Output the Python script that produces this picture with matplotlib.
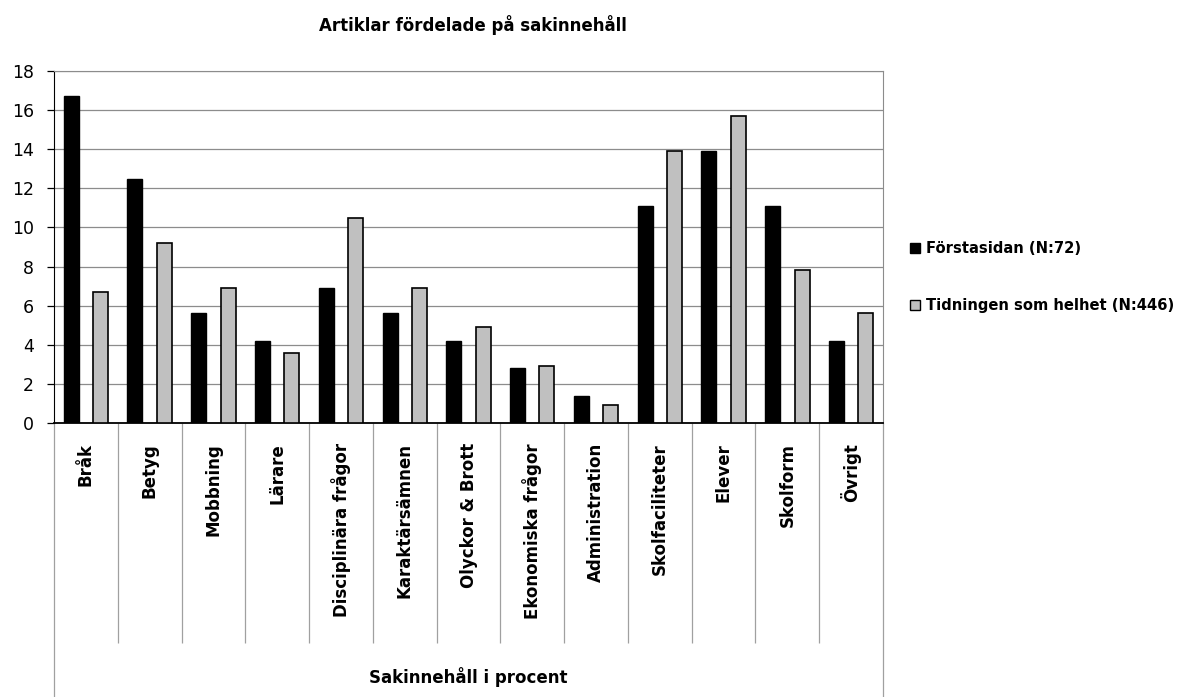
import numpy as np
import matplotlib
matplotlib.use("Agg")
import matplotlib.pyplot as plt
from matplotlib.patches import Patch

plt.rcParams['font.family'] = ['DejaVu Sans']

categories = ['Bråk', 'Betyg', 'Mobbning', 'Lärare', 'Disciplinära frågor',
              'Karaktärsämnen', 'Olyckor & Brott', 'Ekonomiska frågor',
              'Administration', 'Skolfaciliteter', 'Elever', 'Skolform', 'Övrigt']
forstasidan = [16.7, 12.5, 5.6, 4.2, 6.9, 5.6, 4.2, 2.8, 1.4, 11.1, 13.9, 11.1, 4.2]
tidningen = [6.7, 9.2, 6.9, 3.6, 10.5, 6.9, 4.9, 2.9, 0.9, 13.9, 15.7, 7.8, 5.6]
series_names = ['Förstasidan (N:72)', 'Tidningen som helhet (N:446)']
title = 'Artiklar fördelade på sakinnehåll'
xlabel = 'Sakinnehåll i procent'

W, H = 1183, 697
fig = plt.figure(figsize=(W / 100, H / 100), dpi=100)
left, right, top, bottom = 54, 883, 71, 423
ax = fig.add_axes([left / W, 1 - bottom / H, (right - left) / W, (bottom - top) / H])

x = np.arange(len(categories))
bw = 0.235
ax.bar(x - 0.23, forstasidan, bw, color='black', edgecolor='black', linewidth=1, zorder=3)
ax.bar(x + 0.23, tidningen, bw, color='#c0c0c0', edgecolor='black', linewidth=1.2, zorder=3)

ax.set_xlim(-0.5, len(categories) - 0.5)
ax.set_ylim(0, 18)
ax.set_yticks(range(0, 19, 2))
ax.yaxis.grid(True, color='#8c8c8c', linewidth=0.9, zorder=0)
ax.set_xticks([])
ax.tick_params(axis='y', labelsize=12.5, length=5, width=0.9, pad=9.5, color='black')
for s in ['top', 'right']:
    ax.spines[s].set_color('#8c8c8c')
ax.spines['left'].set_color('black')
ax.spines['bottom'].set_color('black')
ax.spines['bottom'].set_linewidth(1.3)

# category separators below the axis
ph = bottom - top
trans = ax.get_xaxis_transform()
ax.vlines(np.arange(0.5, len(categories) - 1, 1), -(643 - bottom) / ph, 0,
          transform=trans, colors='#a0a0a0', linewidth=0.9, clip_on=False)
ax.vlines([-0.5, len(categories) - 0.5], -(H - bottom) / ph, 0,
          transform=trans, colors='#a0a0a0', linewidth=0.9, clip_on=False)

for i, c in enumerate(categories):
    ax.text(i, -(443 - bottom) / ph, c, transform=trans, rotation=90,
            ha='center', va='top', fontsize=12, fontweight='bold')

ax.text((len(categories) - 1) / 2, -(677 - bottom) / ph, xlabel, transform=trans,
        ha='center', va='center', fontsize=12, fontweight='bold')

fig.text(473 / W, 1 - 25 / H, title, ha='center', va='center',
         fontsize=12, fontweight='bold')

handles = [Patch(facecolor='black', edgecolor='black'),
           Patch(facecolor='#c0c0c0', edgecolor='black')]
leg = fig.legend(handles, series_names, loc='center left',
                 bbox_to_anchor=(910 / W, 1 - 277 / H), frameon=False,
                 borderpad=0, borderaxespad=0,
                 handlelength=0.7, handleheight=0.7, handletextpad=0.4,
                 labelspacing=2.85, prop={'weight': 'bold', 'size': 10.6})

fig.savefig('out.png', dpi=100)
